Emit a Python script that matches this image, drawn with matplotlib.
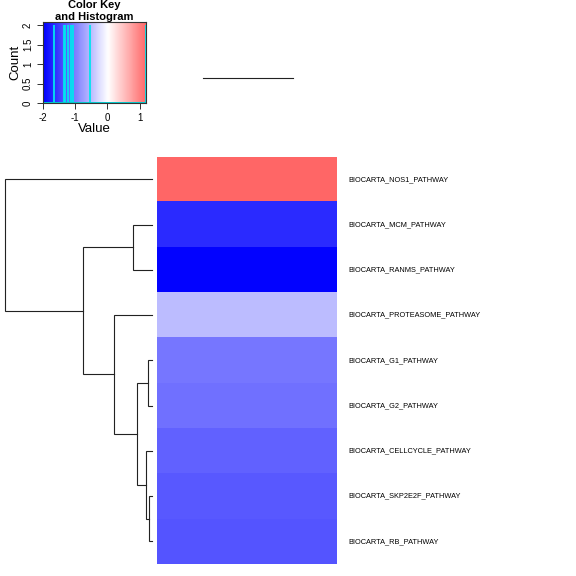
import matplotlib
matplotlib.use("Agg")
import matplotlib.pyplot as plt
import numpy as np
from matplotlib.colors import LinearSegmentedColormap

plt.rcParams['font.family'] = ['Liberation Sans', 'DejaVu Sans']

# ---- data ----
row_labels = ["BIOCARTA_NOS1_PATHWAY", "BIOCARTA_MCM_PATHWAY", "BIOCARTA_RANMS_PATHWAY",
              "BIOCARTA_PROTEASOME_PATHWAY", "BIOCARTA_G1_PATHWAY", "BIOCARTA_G2_PATHWAY",
              "BIOCARTA_CELLCYCLE_PATHWAY", "BIOCARTA_SKP2E2F_PATHWAY", "BIOCARTA_RB_PATHWAY"]
values = [1.19, -1.66, -1.98, -0.53, -1.07, -1.12, -1.23, -1.30, -1.34]
# row dendrogram merges: (child_a, child_b, height); ids >= 9 are earlier merges
merges = [(7, 8, 0.018), (4, 5, 0.027), (6, 9, 0.041), (10, 11, 0.098),
          (1, 2, 0.126), (3, 12, 0.255), (13, 14, 0.471), (0, 15, 1.0)]
key_range = [-2.0, 1.2]
color_limits = [-2.0, 2.0]
key_xticks = [-2, -1, 0, 1]
key_yticks = [0, 0.5, 1, 1.5, 2]
hist_count = 2
key_title = ["Color Key", "and Histogram"]

W = H = 576.0
fig = plt.figure(figsize=(5.76, 5.76), dpi=100)

def rect(x0, y0, x1, y1):
    return [x0 / W, 1 - y1 / H, (x1 - x0) / W, (y1 - y0) / H]

cmap = LinearSegmentedColormap.from_list("bluered", ["#0000FF", "#FFFFFF", "#FF0000"], N=256)
n = len(values)

# ---- heatmap ----
axh = fig.add_axes(rect(157, 156.7, 336.7, 564))
data = np.array(values).reshape(-1, 1)
axh.imshow(data, cmap=cmap, vmin=color_limits[0], vmax=color_limits[1],
           aspect="auto", interpolation="nearest", extent=[-0.5, 0.5, n - 0.5, -0.5])
axh.set_xlim(-0.5, 0.5)
axh.set_ylim(n - 0.5, -0.5)
axh.axis("off")
for i, lab in enumerate(row_labels):
    axh.text(0.5 + 11.3 / 179.7, i, lab, fontsize=5.35, va="center", ha="left",
             transform=axh.transData, clip_on=False)

# ---- row dendrogram ----
axd = fig.add_axes(rect(5.3, 156.7, 151.7, 564))
pos = {i: (float(i), 0.0) for i in range(n)}
for k, (a, b, h) in enumerate(merges):
    ya, ha = pos[a]
    yb, hb = pos[b]
    axd.plot([ha, h, h, hb], [ya, ya, yb, yb], color="#222222", lw=0.8, clip_on=False,
             solid_joinstyle="miter")
    pos[n + k] = ((ya + yb) / 2, h)
axd.set_xlim(1.0, 0.0)
axd.set_ylim(n - 0.5, -0.5)
axd.axis("off")

# ---- column dendrogram placeholder ----
axc = fig.add_axes(rect(157, 60, 336.7, 96))
axc.plot([-0.245, 0.255], [0, 0], color="#222222", lw=0.8)
axc.set_xlim(-0.5, 0.5)
axc.set_ylim(-1, 1)
axc.axis("off")

# ---- color key & histogram ----
axk = fig.add_axes(rect(42.7, 21.7, 146, 103.3))
ylim_top = hist_count * 1.045
zz = np.linspace(key_range[0], key_range[1], 200).reshape(1, -1)
axk.imshow(zz, cmap=cmap, vmin=color_limits[0], vmax=color_limits[1], aspect="auto",
           extent=[key_range[0], key_range[1], 0, ylim_top], interpolation="bilinear")
axk.vlines(values, 0, hist_count, color="#00E5EE", lw=1.3)
axk.hlines(0, key_range[0], key_range[1], color="#00CED1", lw=1.4)
axk.set_xlim(key_range[0], key_range[1])
axk.set_ylim(0, ylim_top)
for s in axk.spines.values():
    s.set_color("#333333")
    s.set_linewidth(0.8)
axk.set_xticks(key_xticks)
axk.set_xticklabels([str(t) for t in key_xticks], fontsize=7)
axk.set_yticks(key_yticks)
axk.set_yticklabels(["0", "0.5", "1", "1.5", "2"], fontsize=7, rotation=90, va="center")
axk.tick_params(direction="out", length=4, width=0.7, pad=3, colors="#333333", labelcolor="black")
axk.set_xlabel("Value", fontsize=9.5, labelpad=0)
axk.set_ylabel("Count", fontsize=9.5, labelpad=1)
fig.text(94 / W, 1 - 5.5 / H, key_title[0], fontsize=8, fontweight="bold", ha="center", va="center")
fig.text(94 / W, 1 - 16.5 / H, key_title[1], fontsize=8, fontweight="bold", ha="center", va="center")

fig.savefig("out.png", dpi=100)
